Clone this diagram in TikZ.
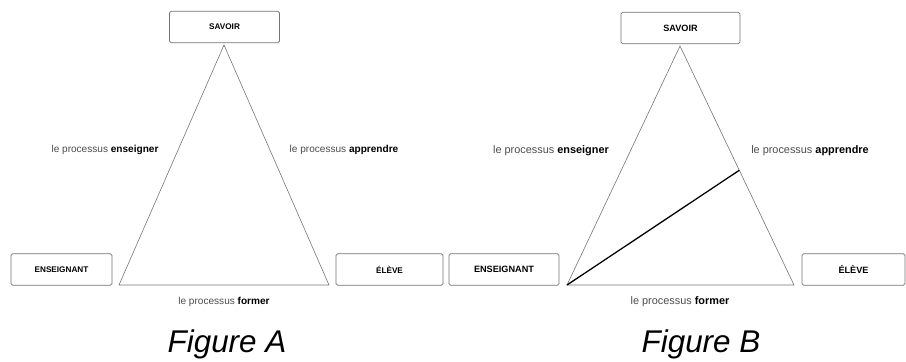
\documentclass[tikz,border=0pt]{standalone}
\usepackage{fontspec}
\setmainfont{Liberation Sans}
\usetikzlibrary{calc}

\begin{document}
\begin{tikzpicture}[x=0.03cm,y=-0.03cm,
  pole/.style={draw=black!55,line width=0.6pt,rounded corners=1.5pt,inner sep=0pt,
    minimum height=0.95cm,font=\fontsize{7}{8}\selectfont\bfseries},
  side/.style={draw=black!55,line width=0.5pt},
  proc/.style={inner sep=0pt,text=black!70,font=\fontsize{8.6}{10}\selectfont},
  caption/.style={font=\fontsize{26.8}{30}\selectfont\itshape}]
  \useasboundingbox (0,0) rectangle (906,361);
  % ---------- figure A: the triangle alone
  \node[pole,minimum width=3.3cm]  (savoirA) at (224.5,27)  {SAVOIR};
  \node[pole,minimum width=3.03cm] (ensA)    at (61.5,269.5) {ENSEIGNANT};
  \node[pole,minimum width=3.21cm] (eleveA)  at (389.5,269.5) {ÉLÈVE};
  \coordinate (topA)   at (224,45);
  \coordinate (leftA)  at (119,285);
  \coordinate (rightA) at (329,285);
  \draw[side] (topA) -- (leftA) -- (rightA) -- cycle;
  \node[proc] (enseignerA) at (105,150) {le processus \textcolor{black}{\bfseries enseigner}};
  \node[proc] (apprendreA) at (344,150) {le processus \textcolor{black}{\bfseries apprendre}};
  \node[proc] (formerA)    at (224,302) {le processus \textcolor{black}{\bfseries former}};
  \node[caption] (figA) at (227,344) {Figure A};
  % ---------- figure B: same triangle, with the cut from the teacher
  \begin{scope}[pole/.append style={font=\fontsize{7.8}{9}\selectfont\bfseries},
    proc/.append style={font=\fontsize{9.3}{11}\selectfont}]
    \node[pole,minimum width=3.57cm] (savoirB) at (680.5,28)  {SAVOIR};
    \node[pole,minimum width=3.3cm]  (ensB)    at (504,269.5) {ENSEIGNANT};
    \node[pole,minimum width=3.09cm] (eleveB)  at (853.5,269.5) {ÉLÈVE};
    \coordinate (topB)   at (680,46);
    \coordinate (leftB)  at (567,285);
    \coordinate (rightB) at (794,285);
    \draw[side] (topB) -- (leftB) -- (rightB) -- cycle;
    \coordinate (cutB) at ($(topB)!0.52!(rightB)$);
    \draw[line width=1.1pt] (leftB) -- (cutB);
    \node[proc] (enseignerB) at (551,151) {le processus \textcolor{black}{\bfseries enseigner}};
    \node[proc] (apprendreB) at (810,151) {le processus \textcolor{black}{\bfseries apprendre}};
    \node[proc] (formerB)    at (680,302) {le processus \textcolor{black}{\bfseries former}};
  \end{scope}
  \node[caption] (figB) at (701,344) {Figure B};
\end{tikzpicture}
\end{document}
